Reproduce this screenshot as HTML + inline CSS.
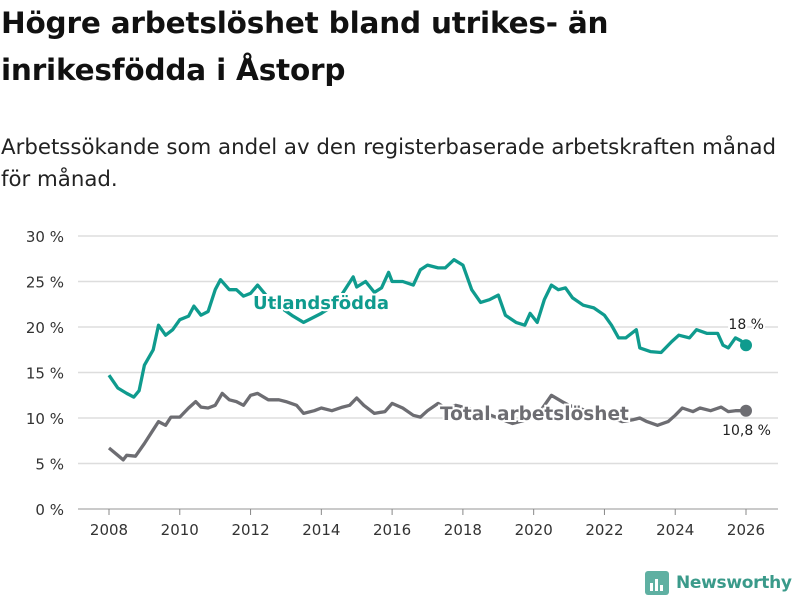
<!DOCTYPE html>
<html><head><meta charset="utf-8"><style>
body{margin:0;width:800px;height:600px;background:#fff;font-family:"DejaVu Sans","Liberation Sans",sans-serif;color:#111;overflow:hidden;position:relative}
h1{position:absolute;left:1px;top:0px;margin:0;font-size:29.5px;line-height:47px;font-weight:bold;letter-spacing:-0.2px}
p{position:absolute;left:1px;top:132px;margin:0;font-size:21.3px;line-height:32px;color:#222}
svg{position:absolute;left:0;top:0}
</style></head><body>
<h1>Högre arbetslöshet bland utrikes- än<br>inrikesfödda i Åstorp</h1>
<p>Arbetssökande som andel av den registerbaserade arbetskraften månad<br>för månad.</p>
<svg id="c" width="800" height="600"></svg>
<script>
const yTicks=[0,5,10,15,20,25,30];
const xTicks=[2008,2010,2012,2014,2016,2018,2020,2022,2024,2026];
const utlT=[2008,2008.25,2008.5,2008.7,2008.85,2009,2009.25,2009.4,2009.6,2009.8,2010,2010.25,2010.4,2010.6,2010.8,2011,2011.15,2011.4,2011.6,2011.8,2012,2012.2,2012.5,2012.8,2013.2,2013.5,2013.75,2014,2014.4,2014.9,2015,2015.25,2015.5,2015.7,2015.9,2016,2016.3,2016.6,2016.8,2017,2017.3,2017.5,2017.75,2018,2018.25,2018.5,2018.75,2019,2019.2,2019.5,2019.75,2019.9,2020.1,2020.3,2020.5,2020.7,2020.9,2021.1,2021.4,2021.7,2022,2022.2,2022.4,2022.6,2022.9,2023,2023.3,2023.6,2023.9,2024.1,2024.4,2024.6,2024.9,2025.2,2025.35,2025.5,2025.7,2025.85,2026];
const utlV=[14.7,13.3,12.7,12.3,13,15.8,17.5,20.2,19.1,19.7,20.8,21.2,22.3,21.3,21.7,24.1,25.2,24.1,24.1,23.4,23.7,24.6,23.2,22.3,21.2,20.5,21,21.5,22.5,25.5,24.4,25,23.8,24.3,26,25,25,24.6,26.3,26.8,26.5,26.5,27.4,26.8,24.1,22.7,23,23.5,21.3,20.5,20.2,21.5,20.5,23,24.6,24.1,24.3,23.2,22.4,22.1,21.3,20.2,18.8,18.8,19.7,17.7,17.3,17.2,18.4,19.1,18.8,19.7,19.3,19.3,18,17.7,18.8,18.5,18];
const totT=[2008,2008.25,2008.4,2008.5,2008.75,2009,2009.25,2009.4,2009.6,2009.75,2010,2010.25,2010.45,2010.6,2010.8,2011,2011.2,2011.4,2011.6,2011.8,2012,2012.2,2012.5,2012.8,2013,2013.3,2013.5,2013.8,2014,2014.3,2014.6,2014.8,2015,2015.2,2015.5,2015.8,2016,2016.3,2016.6,2016.8,2017,2017.3,2017.5,2017.8,2018,2018.5,2019,2019.4,2019.8,2020.2,2020.5,2020.8,2021,2021.5,2022,2022.5,2022.8,2023,2023.2,2023.5,2023.8,2024,2024.2,2024.5,2024.7,2025,2025.3,2025.5,2025.7,2025.85,2026];
const totV=[6.7,5.9,5.4,5.9,5.8,7.2,8.7,9.6,9.2,10.1,10.1,11.1,11.8,11.2,11.1,11.4,12.7,12,11.8,11.4,12.5,12.7,12,12,11.8,11.4,10.5,10.8,11.1,10.8,11.2,11.4,12.2,11.4,10.5,10.7,11.6,11.1,10.3,10.1,10.8,11.6,11.1,11.4,11.2,10.7,10,9.4,9.8,10.8,12.5,11.8,11.4,10.8,10.3,9.6,9.8,10,9.6,9.2,9.6,10.3,11.1,10.7,11.1,10.8,11.2,10.7,10.8,10.8,10.8];
const X=t=>109+(t-2008)*(746-109)/18;
const Y=v=>509-v*(509-236)/30;
const svg=document.getElementById('c');const NS='http://www.w3.org/2000/svg';
function mk(tag,attrs,parent){const e=document.createElementNS(NS,tag);for(const k in attrs)e.setAttribute(k,attrs[k]);(parent||svg).appendChild(e);return e;}
yTicks.forEach(v=>{
 const l=mk('line',{x1:78,x2:778,y1:Y(v),y2:Y(v),stroke:v===0?'#aaa':'#ddd','stroke-width':v===0?1.2:1.5});
 
 
 const t=mk('text',{x:64,y:Y(v)+6,'text-anchor':'end','font-size':15,fill:'#333'});
 t.textContent=v+' %';
 
 
});
xTicks.forEach(y=>{
 const l=mk('line',{x1:X(y),x2:X(y),y1:509,y2:515,stroke:'#888'});
 
 
 const t=mk('text',{x:X(y),y:535,'text-anchor':'middle','font-size':15,fill:'#333'});
 t.textContent=y;
 
 
});
function line(T,V,color,name){
 const d=T.map((t,i)=>(i?'L':'M')+X(t).toFixed(1)+' '+Y(V[i]).toFixed(1)).join('');
 const p=mk('path',{d:d,fill:'none',stroke:color,'stroke-width':3.3,'stroke-linejoin':'round'});
 
 
 const n=T.length-1;
 const c=mk('circle',{cx:X(T[n]),cy:Y(V[n]),r:6,fill:color});
 
 
}
line(totT,totV,'#6d6d72','total');
line(utlT,utlV,'#0f9b8e','utlandsfodda');
function lab(x,y,s,color,size,w,anchor,name){
 const t=mk('text',{x:x,y:y,'font-size':size,'font-weight':w,fill:color,stroke:'#fff','stroke-width':4,'paint-order':'stroke','text-anchor':anchor});
 t.textContent=s;
 
 
}
lab(253,309,'Utlandsfödda','#0f9b8e',18,'bold','start','series-label-utlandsfodda');
lab(440,420,'Total arbetslöshet','#6d6d72',18.5,'bold','start','series-label-total');
lab(764,329,'18 %','#222',14,'normal','end','end-value-utlandsfodda');
lab(771,435,'10,8 %','#222',14,'normal','end','end-value-total');
</script>
<div style="position:absolute;left:645px;top:570px;height:26px;display:flex;align-items:center;font-size:17px;font-weight:bold;color:#3a9a8a;letter-spacing:-0.3px">
<svg width="24" height="24" style="position:static;margin-right:7px"><rect x="0" y="0" width="24" height="24" rx="3" fill="#5fb0a2"/><rect x="5" y="12" width="3" height="8" fill="#fff"/><rect x="10" y="8" width="3" height="12" fill="#fff"/><rect x="15" y="14" width="3" height="6" fill="#fff"/></svg>Newsworthy</div>
</body></html>
